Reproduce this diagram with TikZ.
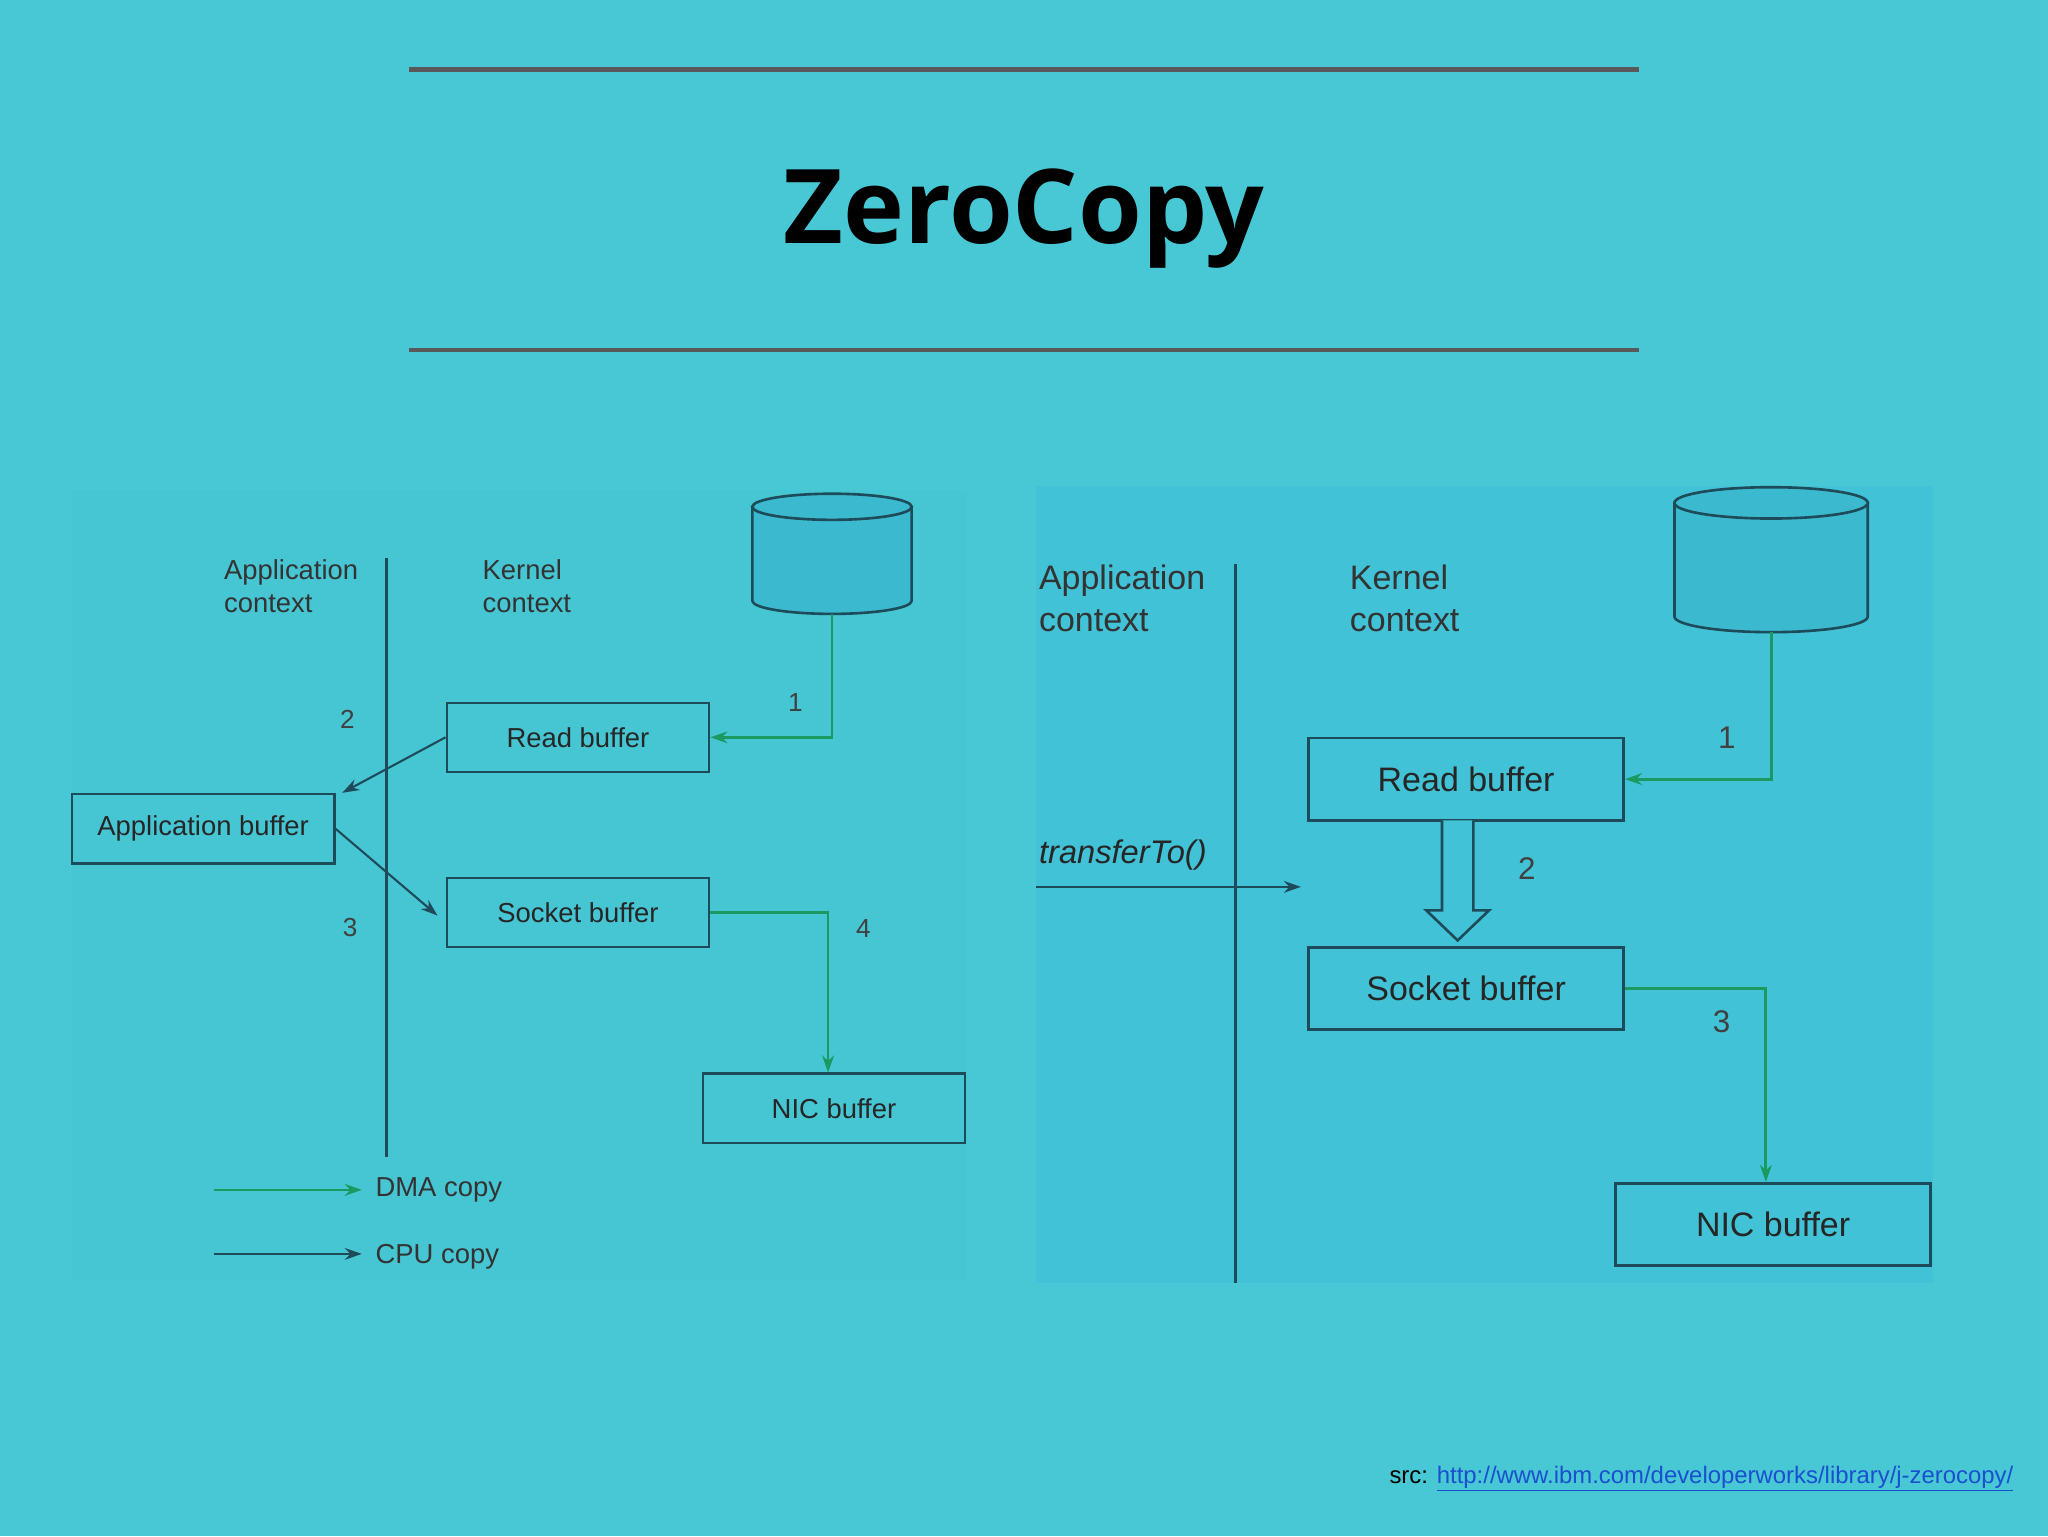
\documentclass[tikz,border=0pt]{standalone}
\usepackage{fontspec}
\setmainfont{Liberation Sans}
\newfontfamily\titlefont{Open Sans}
\usetikzlibrary{arrows.meta}
\definecolor{bgc}{HTML}{48C7D4}
\definecolor{panelR}{HTML}{41C2D6}
\definecolor{panelL}{HTML}{46C5D3}
\definecolor{edge}{HTML}{1E4B5A}
\definecolor{dma}{HTML}{1A9A60}
\definecolor{cylfill}{HTML}{3BB9CF}
\definecolor{linkc}{HTML}{1A4FD0}
\begin{document}
\begin{tikzpicture}[x=1pt,y=-1pt,
  bufL/.style={draw=edge,line width=1.8pt,minimum width=201pt,minimum height=53pt,inner sep=0pt,font=\fontsize{21}{21}\selectfont,text=black!85},
  bufR/.style={draw=edge,line width=2.2pt,minimum width=241pt,minimum height=63pt,inner sep=0pt,font=\fontsize{26}{26}\selectfont,text=black!85},
  lblL/.style={font=\fontsize{21}{25}\selectfont,text=black!80,align=left,anchor=west},
  lblR/.style={font=\fontsize{26}{32}\selectfont,text=black!80,align=left,anchor=west},
  numL/.style={font=\fontsize{20}{20}\selectfont,text=black!75},
  numR/.style={font=\fontsize{24}{24}\selectfont,text=black!75},
  dmaL/.style={draw=dma,line width=2pt,-{Stealth[length=13pt,width=9pt]}},
  cpuL/.style={draw=edge,line width=1.6pt,-{Stealth[length=13pt,width=9pt]}},
  cyl/.style={draw=edge,line width=2pt,fill=cylfill}]
\fill[bgc] (0,0) rectangle (1568,1176);
\useasboundingbox (0,0) rectangle (1568,1176);
\fill[panelL] (55,375) rectangle (740,980);
\fill[panelR] (793,372) rectangle (1480,982);
\draw[line width=3.5pt,gray!70!black] (313,53) -- (1255,53);
\draw[line width=3.5pt,gray!70!black] (313,268) -- (1255,268);
\node[font=\titlefont\bfseries\fontsize{79}{79}\selectfont] (title) at (784,167) {ZeroCopy};
% left diagram
\draw[edge,line width=2.2pt] (296,427) -- (296,886);
\node[lblL] (appL) at (168,449) {Application\\context};
\node[lblL] (kerL) at (366,449) {Kernel\\context};
\filldraw[cyl] (576,388) -- (576,460) arc[start angle=180,end angle=0,x radius=61,y radius=10] -- (698,388) -- cycle;
\filldraw[cyl] (637,388) ellipse[x radius=61,y radius=10];
\coordinate (cylL) at (637,470);
\node[bufL] (rbL) at (442.5,564.5) {Read buffer};
\node[bufL] (abL) at (155.5,634.5) {Application buffer};
\node[bufL] (sbL) at (442.5,698.5) {Socket buffer};
\node[bufL] (nbL) at (638.5,848.5) {NIC buffer};
\draw[dmaL] (cylL) |- (rbL.east);
\node[numL] (n1L) at (609,538) {1};
\coordinate (tip2) at (262,607);
\draw[cpuL] (rbL.west) -- (tip2);
\node[numL] (n2L) at (266,551) {2};
\coordinate (tip3) at (335,701);
\draw[cpuL] (abL.east) -- (tip3);
\node[numL] (n3L) at (268,710) {3};
\draw[dmaL] (sbL.east) -| (nbL.north -| 634,0);
\node[numL] (n4L) at (661,711) {4};
\coordinate (ld1) at (164,911); \coordinate (ld2) at (277,911);
\draw[dmaL] (ld1) -- (ld2);
\node[lblL] (dmaT) at (284,911) {DMA copy};
\coordinate (lc1) at (164,960); \coordinate (lc2) at (277,960);
\draw[cpuL] (lc1) -- (lc2);
\node[lblL] (cpuT) at (284,962) {CPU copy};
% right diagram
\draw[edge,line width=2.6pt] (946,432) -- (946,982);
\node[lblR] (appR) at (792,458) {Application\\context};
\node[lblR] (kerR) at (1030,458) {Kernel\\context};
\filldraw[cyl] (1282,385) -- (1282,472) arc[start angle=180,end angle=0,x radius=74,y radius=12] -- (1430,385) -- cycle;
\filldraw[cyl] (1356,385) ellipse[x radius=74,y radius=12];
\coordinate (cylR) at (1356,484);
\node[bufR] (rbR) at (1122.5,596.5) {Read buffer};
\node[bufR] (sbR) at (1122.5,757) {Socket buffer};
\node[bufR] (nbR) at (1357.5,937.5) {NIC buffer};
\draw[dmaL,line width=2.4pt] (cylR) |- (rbR.east);
\node[numR] (n1R) at (1322,565) {1};
\draw[edge,line width=2pt,fill=panelR] (1104,628) -- (1104,697) -- (1092,697) -- (1116,720) -- (1140,697) -- (1128,697) -- (1128,628);
\node[numR] (n2R) at (1169,665) {2};
\node[font=\itshape\fontsize{25}{25}\selectfont,text=black!85,anchor=west] (tt) at (792,655) {transferTo()};
\coordinate (ta1) at (793,679); \coordinate (ta2) at (996,679);
\draw[cpuL,line width=2pt] (ta1) -- (ta2);
\draw[dmaL,line width=2.4pt] (sbR.east) -| (nbR.north -| 1352,0);
\node[numR] (n3R) at (1318,782) {3};
\node[anchor=base east,font=\fontsize{18.3}{18.3}\selectfont] (src) at (1545,1136) {src: \textcolor{linkc}{\underline{http://www.ibm.com/developerworks/library/j-zerocopy/}}};
\end{tikzpicture}
\end{document}
